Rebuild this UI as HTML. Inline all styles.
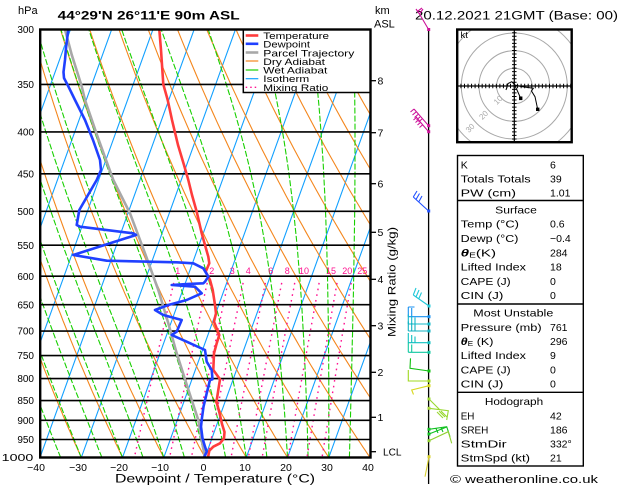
<!DOCTYPE html>
<html><head><meta charset="utf-8">
<style>
html,body{margin:0;padding:0;background:#fff;}
svg{display:block;font-family:"Liberation Sans",sans-serif;}
</style></head>
<body>
<svg id="s" width="629" height="486" viewBox="0 0 629 486" xmlns="http://www.w3.org/2000/svg">
<defs>
<clipPath id="pc"><rect x="40" y="29.5" width="330.5" height="428"/></clipPath>
<clipPath id="hc"><rect x="457.2" y="29.5" width="114.5" height="112.7"/></clipPath>
</defs>
<rect width="629" height="486" fill="#fff"/>

<!-- background lines -->
<g clip-path="url(#pc)" fill="none">
<path id="iso" stroke="#12a0ff" stroke-width="1.1"/>
<path id="dry" stroke="#f4861c" stroke-width="1.1"/>
<path id="wet" stroke="#18d000" stroke-width="1.1" stroke-dasharray="6,2"/>
<path id="mix" stroke="#ff1090" stroke-width="1.4" stroke-dasharray="1.6,4.2"/>
</g>

<!-- isobars -->
<g stroke="#000" stroke-width="1.6">
<line x1="40" x2="370" y1="84.4" y2="84.4"/>
<line x1="40" x2="370" y1="131.9" y2="131.9"/>
<line x1="40" x2="370" y1="173.8" y2="173.8"/>
<line x1="40" x2="370" y1="211.3" y2="211.3"/>
<line x1="40" x2="370" y1="245.2" y2="245.2"/>
<line x1="40" x2="370" y1="276.2" y2="276.2"/>
<line x1="40" x2="370" y1="304.7" y2="304.7"/>
<line x1="40" x2="370" y1="331.1" y2="331.1"/>
<line x1="40" x2="370" y1="355.6" y2="355.6"/>
<line x1="40" x2="370" y1="378.6" y2="378.6"/>
<line x1="40" x2="370" y1="400.6" y2="400.6"/>
<line x1="40" x2="370" y1="420.3" y2="420.3"/>
<line x1="40" x2="370" y1="439.5" y2="439.5"/>
</g>

<!-- mixing ratio labels -->
<g fill="#ff1090" font-size="9" text-anchor="middle">
<text x="177.7" y="274">1</text>
<text x="211.7" y="274">2</text>
<text x="232.3" y="274">3</text>
<text x="248.3" y="274">4</text>
<text x="270.7" y="274">6</text>
<text x="287.3" y="274">8</text>
<text x="304" y="274">10</text>
<text x="331" y="274">15</text>
<text x="347.3" y="274">20</text>
<text x="362.3" y="274">25</text>
</g>

<!-- data -->
<g clip-path="url(#pc)" fill="none" stroke-linejoin="round" stroke-linecap="round">
<polyline stroke="#a8a8a8" stroke-width="2.6" points="65,29.5 71.7,54.7 81.7,86.3 85,100 97,135 106,160 113.3,180 130,213.3 145,253.3 158.3,290 168.3,323.3 176.7,353.3 185,379.3 191.7,400 198.3,420 201.7,440 205,457.5"/>
<polyline stroke="#ff3c3c" stroke-width="2.6" points="159.3,29.5 161,50 163.3,84.3 167.7,100 172,120 178,145 184,165 188.3,180 192,195 196.7,211.7 201.7,233.3 208.3,256.7 209.3,263.3 205.7,271.7 210,280 212.7,290 215,305 216,313.3 214,321.7 219.3,335 216.7,343.3 214,353.3 213.3,370 220,379.3 218.3,390 216.5,401.7 219.5,413 222,424 224.5,432 224,438.3 220,443.3 213.3,446.7 209.3,450.7 208,457.5"/>
<polyline stroke="#2040ff" stroke-width="2.6" points="68.3,29.5 66,48 65,60 63.5,72 64,78 68.3,86.3 75,100 85,120 93,140 100,160 101,170 96.7,180 88,195 79.3,210 76.7,225 80,226.7 133.3,233.3 136,235 73.3,255 106.7,260.7 176.7,262.3 193.3,263.3 203.3,268.3 208.3,276.7 205,281.7 203.3,283.3 186.7,284 171.7,285 195,286.7 201.7,293.3 186.7,300 168.3,305 155,310 163.3,315 181.7,320 176.7,331.7 171.7,335 186.7,341.7 205,350 206.7,361.7 211.7,370 212.5,379.3 210,380 206.7,393.3 203.5,406.7 201.7,420 201,426.7 202.5,438.3 205,446.7 206.7,451.7 204,457.5"/>
</g>

<!-- legend -->
<rect x="243.3" y="29.5" width="127" height="63" fill="#fff" stroke="#000" stroke-width="1.5"/>
<g fill="none">
<line x1="245.7" x2="258.3" y1="35.5" y2="35.5" stroke="#ff3c3c" stroke-width="2.6"/>
<line x1="245.7" x2="258.3" y1="43.8" y2="43.8" stroke="#2040ff" stroke-width="2.6"/>
<line x1="245.7" x2="258.3" y1="52.5" y2="52.5" stroke="#a8a8a8" stroke-width="2.6"/>
<line x1="245.7" x2="258.3" y1="61" y2="61" stroke="#f4861c" stroke-width="1.2"/>
<line x1="245.7" x2="258.3" y1="70" y2="70" stroke="#18d000" stroke-width="1.2"/>
<line x1="245.7" x2="258.3" y1="78.7" y2="78.7" stroke="#12a0ff" stroke-width="1.2"/>
<line x1="245.7" x2="258.3" y1="87.3" y2="87.3" stroke="#ff1090" stroke-width="1.4" stroke-dasharray="1.5,3"/>
</g>
<g font-size="9.5" fill="#000">
<text x="263.3" y="39.2" textLength="65.7" lengthAdjust="spacingAndGlyphs">Temperature</text>
<text x="263.3" y="47.7" textLength="46.7" lengthAdjust="spacingAndGlyphs">Dewpoint</text>
<text x="263.3" y="56.3" textLength="91" lengthAdjust="spacingAndGlyphs">Parcel Trajectory</text>
<text x="263.3" y="64.8" textLength="61.7" lengthAdjust="spacingAndGlyphs">Dry Adiabat</text>
<text x="263.3" y="73.5" textLength="64" lengthAdjust="spacingAndGlyphs">Wet Adiabat</text>
<text x="263.3" y="82.2" textLength="46" lengthAdjust="spacingAndGlyphs">Isotherm</text>
<text x="263.3" y="90.8" textLength="65" lengthAdjust="spacingAndGlyphs">Mixing Ratio</text>
</g>

<!-- plot frame -->
<rect x="40.2" y="29.5" width="330.3" height="428" fill="none" stroke="#000" stroke-width="2.4"/>

<!-- pressure labels -->
<g font-size="10" text-anchor="end" fill="#000">
<text x="34" y="33.2">300</text>
<text x="34" y="88">350</text>
<text x="34" y="135.5">400</text>
<text x="34" y="177.4">450</text>
<text x="34" y="214.9">500</text>
<text x="34" y="248.8">550</text>
<text x="34" y="279.8">600</text>
<text x="34" y="308.3">650</text>
<text x="34" y="334.7">700</text>
<text x="34" y="359.2">750</text>
<text x="34" y="382.2">800</text>
<text x="34" y="404.2">850</text>
<text x="34" y="423.9">900</text>
<text x="34" y="443.1">950</text>
</g>
<text x="1.7" y="461" font-size="10" textLength="31.6" lengthAdjust="spacingAndGlyphs">1000</text>

<!-- temperature labels -->
<g font-size="10.5" text-anchor="middle" fill="#000">
<text x="36" y="471">−40</text>
<text x="78" y="471">−30</text>
<text x="119" y="471">−20</text>
<text x="160" y="471">−10</text>
<text x="203.5" y="471">0</text>
<text x="245" y="471">10</text>
<text x="286" y="471">20</text>
<text x="327" y="471">30</text>
<text x="368" y="471">40</text>
</g>
<text x="115" y="482.3" font-size="11.5" textLength="200" lengthAdjust="spacingAndGlyphs">Dewpoint / Temperature (°C)</text>

<!-- header -->
<text x="18" y="14" font-size="11">hPa</text>
<text x="57.7" y="19.5" font-size="11.5" font-weight="bold" textLength="182" lengthAdjust="spacingAndGlyphs">44°29'N  26°11'E  90m  ASL</text>
<text x="375" y="14" font-size="11">km</text>
<text x="374" y="27.5" font-size="11">ASL</text>
<text x="415" y="19.5" font-size="11.5" textLength="203" lengthAdjust="spacingAndGlyphs">20.12.2021  21GMT  (Base: 00)</text>

<!-- km axis -->
<g stroke="#000" stroke-width="1.3">
<line x1="371" x2="376" y1="80.7" y2="80.7"/>
<line x1="371" x2="376" y1="132.7" y2="132.7"/>
<line x1="371" x2="376" y1="183.7" y2="183.7"/>
<line x1="371" x2="376" y1="232.3" y2="232.3"/>
<line x1="371" x2="376" y1="279.3" y2="279.3"/>
<line x1="371" x2="376" y1="325.7" y2="325.7"/>
<line x1="371" x2="376" y1="372.3" y2="372.3"/>
<line x1="371" x2="376" y1="417.3" y2="417.3"/>
<line x1="371" x2="376" y1="451.7" y2="451.7"/>
</g>
<g font-size="10.5" fill="#000">
<text x="377.5" y="84.5">8</text>
<text x="377.5" y="136.5">7</text>
<text x="377.5" y="187.5">6</text>
<text x="377.5" y="236">5</text>
<text x="377.5" y="283">4</text>
<text x="377.5" y="329.5">3</text>
<text x="377.5" y="376">2</text>
<text x="377.5" y="421">1</text>
<text x="383" y="455.5" textLength="18.5" lengthAdjust="spacingAndGlyphs">LCL</text>
</g>
<text transform="translate(395.5,282) rotate(-90)" font-size="11" text-anchor="middle" textLength="110" lengthAdjust="spacingAndGlyphs">Mixing Ratio (g/kg)</text>

<!-- wind barbs -->
<line x1="428.6" y1="29.5" x2="428.6" y2="484" stroke="#000" stroke-width="1.3"/>
<g fill="none" stroke-width="1.1">
<path stroke="#cc1199" d="M428.6,29.5 L419.5,14 L416,9 M419.5,14 L423,9 M418,11 L422,8"/>
<path stroke="#cc1199" d="M428.6,125.7 L414,109 M428.6,131.7 L416,117 M414,109 L410.5,112 M416,112 L412.5,115 M418,114.5 L414.5,117.5 M420,117 L416.5,120 M422,119 L418.5,122 M417,117 L413.5,120 M419,119.5 L415.5,122.5 M421,122 L417.5,125 M423,124.5 L419.5,127.5"/>
<path stroke="#2050ff" d="M428.6,211 L413.3,197 M413.3,197 L417,191 M416,199.5 L419.5,193.5 M418.7,202 L422,196"/>
<path stroke="#20c8d8" d="M429,306 L413.3,295 M413.3,295 L416,288 M416,297 L419,290 M418.7,299 L421.5,292.5"/>
<path stroke="#1890f0" d="M429,316.7 L408.3,316.7 M408.3,316.7 L408.3,307 M411.7,316.7 L411.7,308 M408.3,307 L414.5,307"/>
<path stroke="#10b8c8" d="M429,324 L408.3,324 M408.3,324 L408.3,314.5 M411.7,324 L411.7,316 M415,324 L415,317.5"/>
<path stroke="#10b0c0" d="M429,331 L408.3,331 M408.3,331 L408.3,321.5 M411.7,331 L411.7,323 M415,331 L415,324.5"/>
<path stroke="#10c0c0" d="M429,342.7 L408.3,342.7 M408.3,342.7 L408.3,333 M411.7,342.7 L411.7,335 M415,342.7 L415,336.5"/>
<path stroke="#10c8a0" d="M429,352.3 L408.3,352.3 M408.3,352.3 L408.3,342.5 M411.7,352.3 L411.7,344.5"/>
<path stroke="#10c010" d="M429,371 L410,368.3 L410.5,358.3"/>
<path stroke="#a0d820" d="M408.3,370 L408.3,381 L429,381"/>
<path stroke="#d8d820" d="M429,385.7 L411.7,390 L413.5,394.5"/>
<path stroke="#98d830" d="M429,399 L440,410 M429,408.3 L448.3,410.7 L446.7,420 M437,412 L443,418 M439,411 L445,417 M441,411 L447,417"/>
<path stroke="#10c020" d="M429,429.3 L446.7,426.7 L450,436.7 M429,434 L446.7,427 M436,428.5 L438,433 M441,427.5 L443,432"/>
<path stroke="#90d030" d="M429,440.7 L448.3,431.7 L451.7,443.3"/>
<path stroke="#d8d030" d="M429,456.7 L425,476.7"/>
</g>
<g stroke="none">
<rect x="427.2" y="28" width="3" height="3" fill="#cc1199"/>
<rect x="427.2" y="124.2" width="3" height="3" fill="#cc1199"/>
<rect x="427.2" y="130.2" width="3" height="3" fill="#cc1199"/>
<rect x="427.2" y="209.5" width="3" height="3" fill="#2050ff"/>
<rect x="427.5" y="304.5" width="3" height="3" fill="#20c8d8"/>
<rect x="427.5" y="315.2" width="3" height="3" fill="#1890f0"/>
<rect x="427.5" y="322.5" width="3" height="3" fill="#10b8c8"/>
<rect x="427.5" y="329.5" width="3" height="3" fill="#10b0c0"/>
<rect x="427.5" y="341.2" width="3" height="3" fill="#10c0c0"/>
<rect x="427.5" y="350.8" width="3" height="3" fill="#10c8a0"/>
<rect x="427.5" y="369.5" width="3" height="3" fill="#10c010"/>
<rect x="427.5" y="379.5" width="3" height="3" fill="#a0d820"/>
<rect x="427.5" y="384.2" width="3" height="3" fill="#d8d820"/>
<rect x="427.5" y="397.5" width="3" height="3" fill="#98d830"/>
<rect x="427.5" y="406.8" width="3" height="3" fill="#a8d840"/>
<rect x="427.5" y="427.8" width="3" height="3" fill="#10c020"/>
<rect x="427.5" y="432.5" width="3" height="3" fill="#10c020"/>
<rect x="427.5" y="439.2" width="3" height="3" fill="#90d030"/>
<rect x="427.5" y="455.2" width="3" height="3" fill="#d8d030"/>
</g>

<!-- hodograph -->
<g clip-path="url(#hc)" fill="none" stroke="#a8a8a8" stroke-width="1">
<circle cx="514.3" cy="86" r="17.7"/>
<circle cx="514.3" cy="86" r="35.3"/>
<circle cx="514.3" cy="86" r="53"/>
<circle cx="514.3" cy="86" r="70.6"/>
</g>
<g font-size="8" fill="#a8a8a8" text-anchor="middle">
<text transform="translate(500,102) rotate(-45)">10</text>
<text transform="translate(485.5,117) rotate(-45)">20</text>
<text transform="translate(472,130) rotate(-45)">30</text>
</g>
<g stroke="#000">
<line x1="457.2" y1="86" x2="571.7" y2="86" stroke-width="1.2"/>
<line x1="514.3" y1="29.5" x2="514.3" y2="142.2" stroke-width="1.2"/>
<line x1="457.2" y1="86" x2="571.7" y2="86" stroke-width="4.5" stroke-dasharray="1,2.54" stroke-dashoffset="0.3"/>
<line x1="514.3" y1="29.5" x2="514.3" y2="142.2" stroke-width="4.5" stroke-dasharray="1,2.54" stroke-dashoffset="0.8"/>
</g>
<path d="M506,90 L508,83.5 L511.7,81.7 L515,85 L521,86.5 L528,87.5 L533.3,88.3 L531.5,91 L535,96.7 L537.7,109.3 M515,86 L517,90 L520.7,98.3" fill="none" stroke="#000" stroke-width="1"/>
<rect x="519" y="96.5" width="3.4" height="3.6" fill="#000"/>
<rect x="536" y="107.6" width="3.4" height="3.4" fill="#000"/>
<rect x="457.2" y="29.5" width="114.5" height="112.7" fill="none" stroke="#000" stroke-width="2.4"/>
<text x="460.5" y="38" font-size="9.5">kt</text>

<!-- table -->
<g fill="none" stroke="#000" stroke-width="1.4">
<rect x="457.5" y="155.5" width="125.8" height="310.5"/>
<line x1="457.5" x2="583.3" y1="200.5" y2="200.5"/>
<line x1="457.5" x2="583.3" y1="304" y2="304"/>
<line x1="457.5" x2="583.3" y1="392.3" y2="392.3"/>
</g>
<g font-size="10.5" fill="#000">
<text x="460.7" y="168.3">K</text>
<text x="460.7" y="182.3" textLength="70" lengthAdjust="spacingAndGlyphs">Totals Totals</text>
<text x="460.7" y="196.7" textLength="55.3" lengthAdjust="spacingAndGlyphs">PW (cm)</text>
<text x="516" y="213.3" text-anchor="middle" textLength="41.7" lengthAdjust="spacingAndGlyphs">Surface</text>
<text x="460.7" y="227.7" textLength="58.3" lengthAdjust="spacingAndGlyphs">Temp (°C)</text>
<text x="460.7" y="242" textLength="57.7" lengthAdjust="spacingAndGlyphs">Dewp (°C)</text>
<text x="460.7" y="256.7" textLength="35.3" lengthAdjust="spacingAndGlyphs"><tspan font-weight="bold" font-style="italic">θ</tspan><tspan font-size="7" dy="1">E</tspan><tspan dy="-1">(K)</tspan></text>
<text x="460.7" y="270.7" textLength="65.3" lengthAdjust="spacingAndGlyphs">Lifted Index</text>
<text x="460.7" y="285" textLength="50" lengthAdjust="spacingAndGlyphs">CAPE (J)</text>
<text x="460.7" y="299" textLength="42.7" lengthAdjust="spacingAndGlyphs">CIN (J)</text>
<text x="513.3" y="316.7" text-anchor="middle" textLength="80" lengthAdjust="spacingAndGlyphs">Most Unstable</text>
<text x="460.7" y="331" textLength="81" lengthAdjust="spacingAndGlyphs">Pressure (mb)</text>
<text x="460.7" y="345" textLength="32.7" lengthAdjust="spacingAndGlyphs"><tspan font-weight="bold" font-style="italic">θ</tspan><tspan font-size="7" dy="1">E</tspan><tspan dy="-1"> (K)</tspan></text>
<text x="460.7" y="359" textLength="65.3" lengthAdjust="spacingAndGlyphs">Lifted Index</text>
<text x="460.7" y="373.3" textLength="50" lengthAdjust="spacingAndGlyphs">CAPE (J)</text>
<text x="460.7" y="387.7" textLength="42.7" lengthAdjust="spacingAndGlyphs">CIN (J)</text>
<text x="514" y="405" text-anchor="middle" textLength="58.3" lengthAdjust="spacingAndGlyphs">Hodograph</text>
<text x="460.7" y="419.3" textLength="13.7" lengthAdjust="spacingAndGlyphs">EH</text>
<text x="460.7" y="433.3" textLength="27.7" lengthAdjust="spacingAndGlyphs">SREH</text>
<text x="460.7" y="447.7" textLength="46" lengthAdjust="spacingAndGlyphs">StmDir</text>
<text x="460.7" y="461.7" textLength="69.3" lengthAdjust="spacingAndGlyphs">StmSpd (kt)</text>

<text x="550" y="168.3">6</text>
<text x="550" y="182.3">39</text>
<text x="550" y="196.7">1.01</text>
<text x="550" y="227.7">0.6</text>
<text x="550" y="242">−0.4</text>
<text x="550" y="256.7">284</text>
<text x="550" y="270.7">18</text>
<text x="550" y="285">0</text>
<text x="550" y="299">0</text>
<text x="550" y="331">761</text>
<text x="550" y="345">296</text>
<text x="550" y="359">9</text>
<text x="550" y="373.3">0</text>
<text x="550" y="387.7">0</text>
<text x="550" y="419.3">42</text>
<text x="550" y="433.3">186</text>
<text x="550" y="447.7">332°</text>
<text x="550" y="461.7">21</text>
</g>
<text x="450" y="483" font-size="11" textLength="148" lengthAdjust="spacingAndGlyphs">© weatheronline.co.uk</text>
</svg>
<script>
(function(){
var YT=29.5,YB=457.5,K=(YB-YT)/Math.log(1000/300),SK=154.2/(YB-YT);
function y(p){return YT+K*Math.log(p/300);}
function x(T,p){return 40+(T+40)*4.125+SK*(YB-y(p));}
function f(v){return v.toFixed(1);}
var d='',T,p,s;
for(T=-130;T<=40;T+=10){d+='M'+f(x(T,1000))+','+f(y(1000))+'L'+f(x(T,290))+','+f(y(290));}
document.getElementById('iso').setAttribute('d',d);
d='';
for(var T0=-60;T0<=130;T0+=10){var th=T0+273.15;s='';for(p=1000;p>=290;p-=10){T=th*Math.pow(p/1000,0.2857)-273.15;s+=(s?'L':'M')+f(x(T,p))+','+f(y(p));}d+=s;}
document.getElementById('dry').setAttribute('d',d);
function es(Tc){return 6.112*Math.exp(17.67*Tc/(Tc+243.5));}
function g(Tk,pp){var e=es(Tk-273.15);var rs=0.622*e/(pp-e);var Rd=287.04,Cp=1005.7,L=2.501e6;return (Rd*Tk+L*rs)/(Cp+L*L*rs*0.622/(Rd*Tk*Tk));}
d='';
for(T0=-45;T0<=45;T0+=5){var Tk=T0+273.15;p=1000;s='M'+f(x(T0,1000))+','+f(y(1000));var i=0;
 while(p>290){var dp=-2;var h=Math.log(p+dp)-Math.log(p);var k1=g(Tk,p);var k2=g(Tk+h*k1,p+dp);Tk+=h*(k1+k2)/2;p+=dp;i++;
 if(i%5===0)s+='L'+f(x(Tk-273.15,p))+','+f(y(p));}
 d+=s;}
document.getElementById('wet').setAttribute('d',d);
d='';
var ws=[1,2,3,4,6,8,10,15,20,25];
for(var j=0;j<ws.length;j++){var w=ws[j];s='';for(p=612;p<=1000;p+=8){var e=w*p/(622+w);var ln=Math.log(e/6.112);var Td=243.5*ln/(17.67-ln);s+=(s?'L':'M')+f(x(Td,p))+','+f(y(p));}d+=s;}
document.getElementById('mix').setAttribute('d',d);
})();
</script>
</body></html>
